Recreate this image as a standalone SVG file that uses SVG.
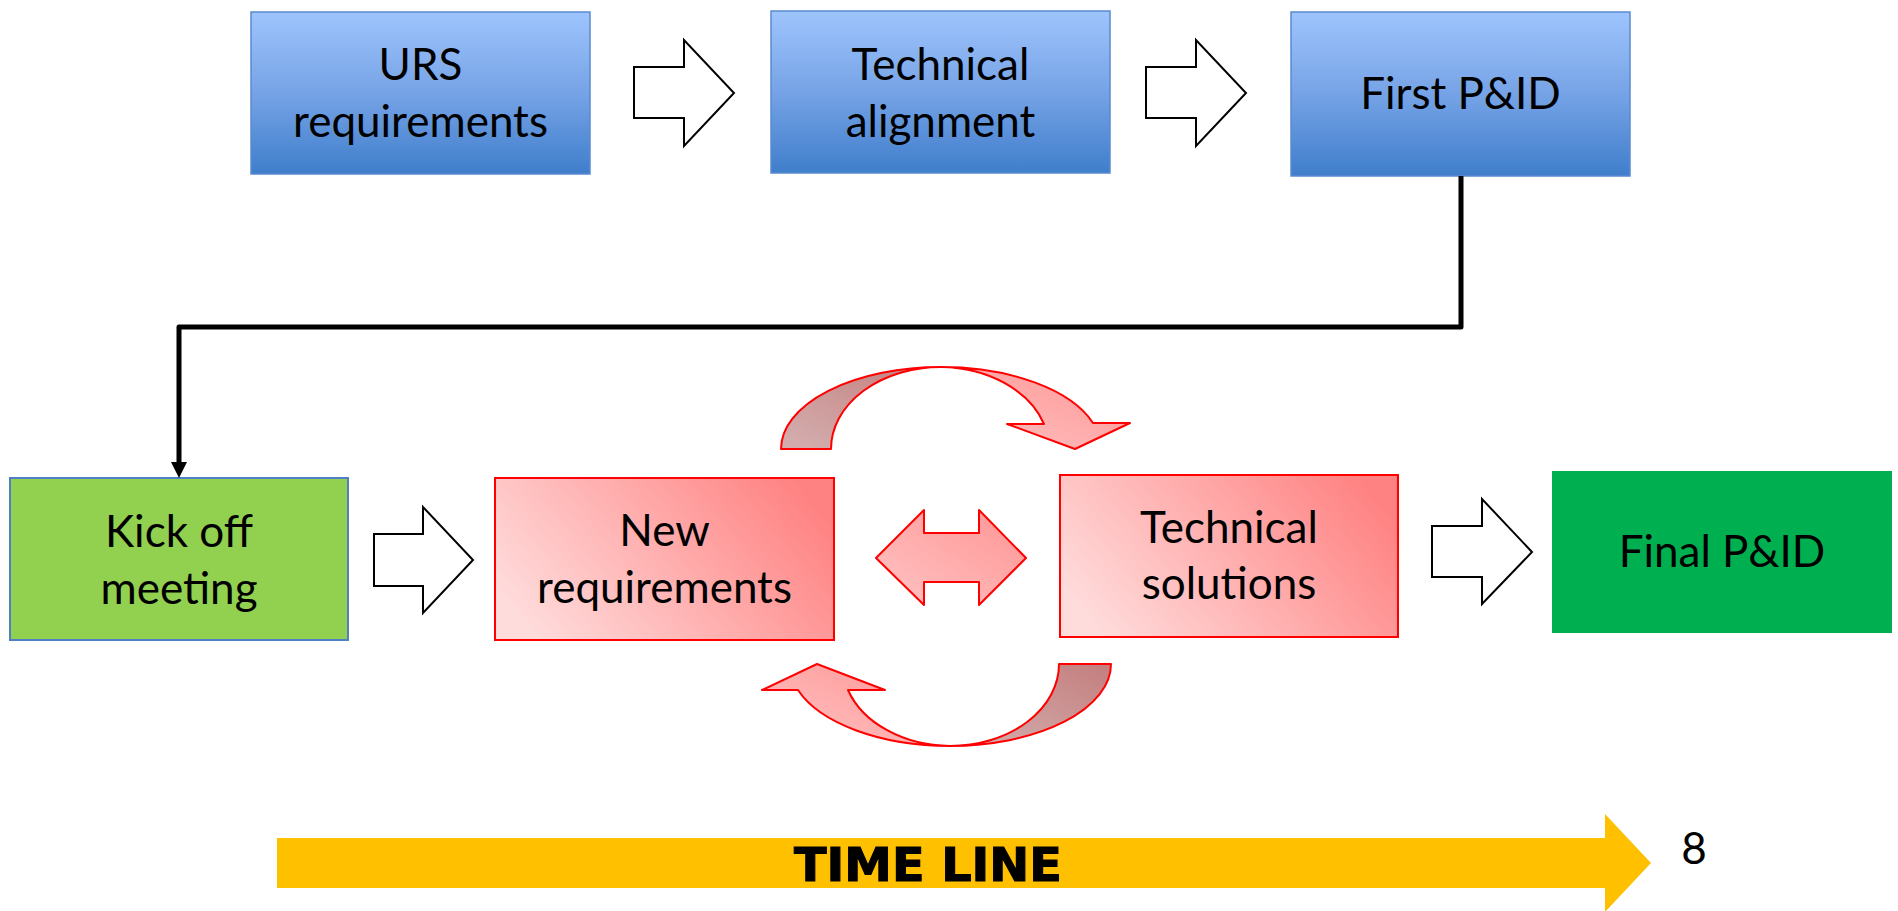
<svg xmlns="http://www.w3.org/2000/svg" width="1898" height="911" viewBox="0 0 1898 911">
  <defs>
    <linearGradient id="blueFill" x1="0" y1="0" x2="0" y2="1">
      <stop offset="0" stop-color="#9EC4FC"/>
      <stop offset="0.5" stop-color="#76A3E6"/>
      <stop offset="1" stop-color="#3F7ECB"/>
    </linearGradient>
    <linearGradient id="redFill" x1="0" y1="0.7" x2="1" y2="0.3">
      <stop offset="0" stop-color="#FFDCDC"/>
      <stop offset="1" stop-color="#FF8282"/>
    </linearGradient>
    <linearGradient id="pinkFront" x1="0" y1="1" x2="1" y2="0">
      <stop offset="0" stop-color="#FFC4C4"/>
      <stop offset="1" stop-color="#FF9494"/>
    </linearGradient>
    <linearGradient id="pinkBack" x1="0" y1="1" x2="1" y2="0">
      <stop offset="0" stop-color="#D4B0B0"/>
      <stop offset="1" stop-color="#C47E7E"/>
    </linearGradient>
    <marker id="arrowHead" markerWidth="3.2" markerHeight="3.2" refX="0" refY="1.6" orient="auto" markerUnits="strokeWidth">
      <path d="M0,0 L3.2,1.6 L0,3.2 Z" fill="#000"/>
    </marker>
  </defs>
  <style>
    .label { font-family: Lato, "Open Sans", "Liberation Sans", sans-serif; font-size: 44px; fill: #000; text-anchor: middle; }
    .blue { fill: url(#blueFill); stroke: #5A8AD0; stroke-width: 1.5; }
    .red { fill: url(#redFill); stroke: #FF0000; stroke-width: 2; }
    .step { fill: #FFFFFF; stroke: #000; stroke-width: 2; stroke-linejoin: miter; }
    .loop { stroke: #FF0000; stroke-width: 2; stroke-linejoin: round; }
  </style>

  <!-- top row -->
  <g id="urs">
    <rect class="blue" x="251" y="12" width="339" height="162"/>
    <text class="label" x="420.5" y="80">URS</text>
    <text class="label" x="420.5" y="137">requirements</text>
  </g>
  <g id="tech-alignment">
    <rect class="blue" x="771" y="11" width="339" height="162"/>
    <text class="label" x="940.5" y="80">Technical</text>
    <text class="label" x="940.5" y="137">alignment</text>
  </g>
  <g id="first-pid">
    <rect class="blue" x="1291" y="12" width="339" height="164"/>
    <text class="label" x="1460.5" y="109">First P&amp;ID</text>
  </g>

  <!-- bottom row -->
  <g id="kickoff">
    <rect x="10" y="478" width="338" height="162" fill="#92D050" stroke="#4F7FC4" stroke-width="2"/>
    <text class="label" x="179" y="547">Kick off</text>
    <text class="label" x="179" y="604">meeting</text>
  </g>
  <g id="new-requirements">
    <rect class="red" x="495" y="478" width="339" height="162"/>
    <text class="label" x="664.5" y="546">New</text>
    <text class="label" x="664.5" y="603">requirements</text>
  </g>
  <g id="tech-solutions">
    <rect class="red" x="1060" y="475" width="338" height="162"/>
    <text class="label" x="1229" y="543">Technical</text>
    <text class="label" x="1229" y="599">solutions</text>
  </g>
  <g id="final-pid">
    <rect x="1552" y="471" width="340" height="162" fill="#00B050"/>
    <text class="label" x="1722" y="567">Final P&amp;ID</text>
  </g>

  <!-- connectors -->
  <g id="connectors">
    <path class="step" d="M634,67 H684 V40 L734,93 L684,146 V118 H634 Z"/>
    <path class="step" d="M1146,67 H1196 V40 L1246,93 L1196,146 V118 H1146 Z"/>
    <path class="step" d="M374,534 H423 V507 L473,560 L423,613 V586 H374 Z"/>
    <path class="step" d="M1432,526 H1482 V499 L1532,552 L1482,604 V577 H1432 Z"/>

    <path d="M1461,176 V327 H179 V462" fill="none" stroke="#000" stroke-width="5" stroke-linejoin="round" marker-end="url(#arrowHead)"/>

    <path class="loop" fill="url(#pinkFront)" d="M876,558 L924,510 V533 H979 V510 L1026,558 L979,605 V582 H924 V605 Z"/>

    <!-- upper loop: rear band then front band with head -->
    <path class="loop" fill="url(#pinkBack)" d="M781,449 A160,82 0 0 1 941,367 A110,82 0 0 0 831,449 Z"/>
    <path class="loop" fill="url(#pinkFront)" d="M941,367 A160,82 0 0 1 1093,423 L1130,423 L1075,449 L1007,424 L1044,424 A110,82 0 0 0 941,367 Z"/>

    <!-- lower loop -->
    <path class="loop" fill="url(#pinkBack)" d="M1111,664 A161,82 0 0 1 950,746 A109,82 0 0 0 1059,664 Z"/>
    <path class="loop" fill="url(#pinkFront)" d="M950,746 A161,82 0 0 1 798,690 L762,690 L817,664 L885,690 L848,690 A109,82 0 0 0 950,746 Z"/>
  </g>

  <!-- time line -->
  <g id="timeline">
    <path d="M277,838 H1605 V814 L1651,863 L1605,912 V888 H277 Z" fill="#FFC000"/>
    <text x="928" y="881" text-anchor="middle" font-family="'Liberation Sans Narrow', 'DejaVu Sans Condensed', 'Liberation Sans', sans-serif" font-weight="bold" font-size="47" fill="#000" stroke="#000" stroke-width="1" textLength="268" lengthAdjust="spacingAndGlyphs">TIME LINE</text>
    <text class="label" x="1694" y="864">8</text>
  </g>
</svg>
